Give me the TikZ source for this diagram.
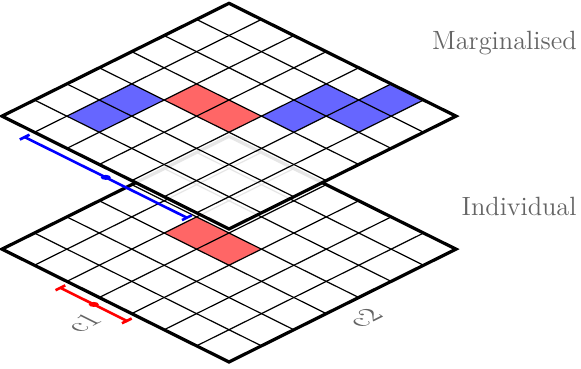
\documentclass[tikz,border=0pt]{standalone}
\usepackage{tikz}
\usetikzlibrary{positioning}
\definecolor{labelgray}{RGB}{100,100,100}
\definecolor{cellblue}{RGB}{102,102,255}
\definecolor{cellred}{RGB}{255,102,102}

\begin{document}
\begin{tikzpicture}[x=0.5pt,y=0.5pt]
	\tikzstyle{plane}=[x={(16.215pt,-8.06pt)},y={(-16.215pt,-8.06pt)}]
	\tikzstyle{gridline}=[black,line width=0.6pt]
	\tikzstyle{gridborder}=[black,line width=1.6pt,line join=miter]
	\tikzstyle{measbar}=[line width=1.3pt]
	\tikzstyle{layerlabel}=[text=labelgray,font=\fontsize{13.2}{16}\selectfont,
	inner sep=0pt,anchor=base east]
	\tikzstyle{axislabel}=[text=labelgray,font=\fontsize{13.2}{16}\selectfont,
	inner sep=0pt,cm={1,0.5,-1,0.5,(0,0)}]
	\useasboundingbox (0,0) rectangle (581,-368);
	% individual layer
	\begin{scope}[shift={(229,-136.3)},plane]
		\fill[white] (0,0) -- (7,0) -- (7,7) -- (0,7) -- cycle;
		\foreach \j in {2,3}
			\fill[cellred] (\j,3) -- ++(1,0) -- ++(0,1) -- ++(-1,0) -- cycle;
		\foreach \k in {1,...,6} {
			\draw[gridline] (\k,0) -- (\k,7);
			\draw[gridline] (0,\k) -- (7,\k);
		}
		\draw[gridborder] (0,0) -- (7,0) -- (7,7) -- (0,7) -- cycle;
		\coordinate (rstart) at (2.1,7.3);
		\coordinate (rend)   at (4.15,7.3);
		\draw[measbar,red] (rstart) -- (rend);
		\draw[measbar,red] (rstart) ++(0,-0.15) -- ++(0,0.3);
		\draw[measbar,red] (rend) ++(0,-0.15) -- ++(0,0.3);
		\fill[red] (3.13,7.3) circle[radius=0.11];
		\node[axislabel] (cone) at (3.54,8.04) {c1};
		\node[axislabel] (ctwo) at (7.73,3.55) {c2};
	\end{scope}
	% marginalised layer
	\begin{scope}[shift={(229,-3.3)},plane]
		\fill[white,fill opacity=0.9] (0,0) -- (7,0) -- (7,7) -- (0,7) -- cycle;
		\foreach \j/\i in {1/4,1/5,4/1,4/2,5/1,5/0}
			\fill[cellblue] (\j,\i) -- ++(1,0) -- ++(0,1) -- ++(-1,0) -- cycle;
		\foreach \j in {2,3}
			\fill[cellred] (\j,3) -- ++(1,0) -- ++(0,1) -- ++(-1,0) -- cycle;
		\foreach \k in {1,...,6} {
			\draw[gridline] (\k,0) -- (\k,7);
			\draw[gridline] (0,\k) -- (7,\k);
		}
		\draw[gridborder] (0,0) -- (7,0) -- (7,7) -- (0,7) -- cycle;
		\coordinate (bstart) at (1,7.3);
		\coordinate (bend)   at (6,7.3);
		\draw[measbar,blue] (bstart) -- (bend);
		\draw[measbar,blue] (bstart) ++(0,-0.15) -- ++(0,0.3);
		\draw[measbar,blue] (bend) ++(0,-0.15) -- ++(0,0.3);
		\fill[blue] (3.5,7.3) circle[radius=0.11];
	\end{scope}
	\node[layerlabel] (marg)  at (577,-50)  {Marginalised};
	\node[layerlabel] (indiv) at (577,-215) {Individual};
\end{tikzpicture}
\end{document}
